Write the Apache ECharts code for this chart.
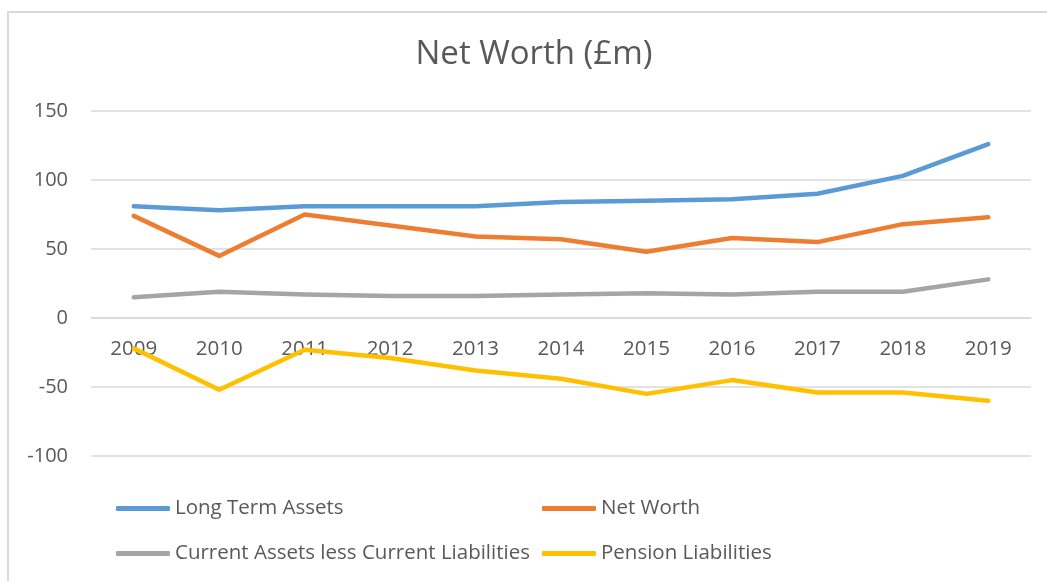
<!DOCTYPE html>
<html>
<head>
<meta charset="utf-8">
<title>Net Worth</title>
<script src="https://cdn.jsdelivr.net/npm/echarts@6/dist/echarts.min.js"></script>
<style>
  html, body { margin: 0; padding: 0; background: #fff; }
  #main { width: 1047px; height: 581px; }
</style>
</head>
<body>
<div id="main"></div>
<script>
// data
var years = ['2009', '2010', '2011', '2012', '2013', '2014', '2015', '2016', '2017', '2018', '2019'];
var longTermAssets = [81, 78, 81, 81, 81, 84, 85, 86, 90, 103, 126];
var netWorth = [74, 45, 75, 67, 59, 57, 48, 58, 55, 68, 73];
var currentAssets = [15, 19, 17, 16, 16, 17, 18, 17, 19, 19, 28];
var pensionLiabilities = [-22, -52, -23, -29, -38, -44, -55, -45, -54, -54, -60];

var txt = '#595959';
var font = '"Open Sans", "Liberation Sans", sans-serif';

var myChart = echarts.init(document.getElementById('main'));

function line(name, data, color) {
    return {
        name: name,
        type: 'line',
        data: data,
        symbol: 'none',
        smooth: false,
        lineStyle: { width: 4.5, color: color, cap: 'round', join: 'round' },
        itemStyle: { color: color }
    };
}

var legendText = { color: txt, fontSize: 20.5, fontFamily: font };

var option = {
    animation: false,
    color: ['#5B9BD5', '#ED7D31', '#A5A5A5', '#FFC000'],
    graphic: [{
        type: 'rect',
        shape: { x: 8, y: 12, width: 1100, height: 700 },
        style: { fill: 'none', stroke: '#D9D9D9', lineWidth: 2 },
        silent: true
    }],
    title: {
        text: 'Net Worth (£m)',
        left: 529,
        textAlign: 'center',
        top: 33,
        textStyle: { color: txt, fontSize: 33, fontWeight: 'normal', fontFamily: font }
    },
    legend: [{
        orient: 'vertical',
        left: 111,
        top: 493,
        itemWidth: 54,
        itemHeight: 5,
        itemGap: 24,
        icon: 'roundRect',
        textStyle: legendText,
        data: ['Long Term Assets', 'Current Assets less Current Liabilities']
    }, {
        orient: 'vertical',
        left: 537,
        top: 493,
        itemWidth: 54,
        itemHeight: 5,
        itemGap: 24,
        icon: 'roundRect',
        textStyle: legendText,
        data: ['Net Worth', 'Pension Liabilities']
    }],
    grid: { left: 91, right: 16, top: 111, bottom: 125, containLabel: false },
    xAxis: {
        type: 'category',
        data: years,
        boundaryGap: true,
        // category labels sit next to the zero line, as in the spreadsheet chart
        offset: -138,
        axisLine: { show: true, onZero: false, lineStyle: { color: '#D9D9D9', width: 1.5 } },
        axisTick: { show: false },
        axisLabel: { color: txt, fontSize: 20.5, fontFamily: font, margin: 21 }
    },
    yAxis: {
        type: 'value',
        min: -100,
        max: 150,
        interval: 50,
        axisLine: { show: false },
        axisTick: { show: false },
        axisLabel: { color: txt, fontSize: 20, fontFamily: font, margin: 23 },
        splitLine: { lineStyle: { color: '#D9D9D9', width: 1.5 } }
    },
    series: [
        line('Long Term Assets', longTermAssets, '#5B9BD5'),
        line('Net Worth', netWorth, '#ED7D31'),
        line('Current Assets less Current Liabilities', currentAssets, '#A5A5A5'),
        line('Pension Liabilities', pensionLiabilities, '#FFC000')
    ]
};

myChart.setOption(option);
</script>
</body>
</html>
